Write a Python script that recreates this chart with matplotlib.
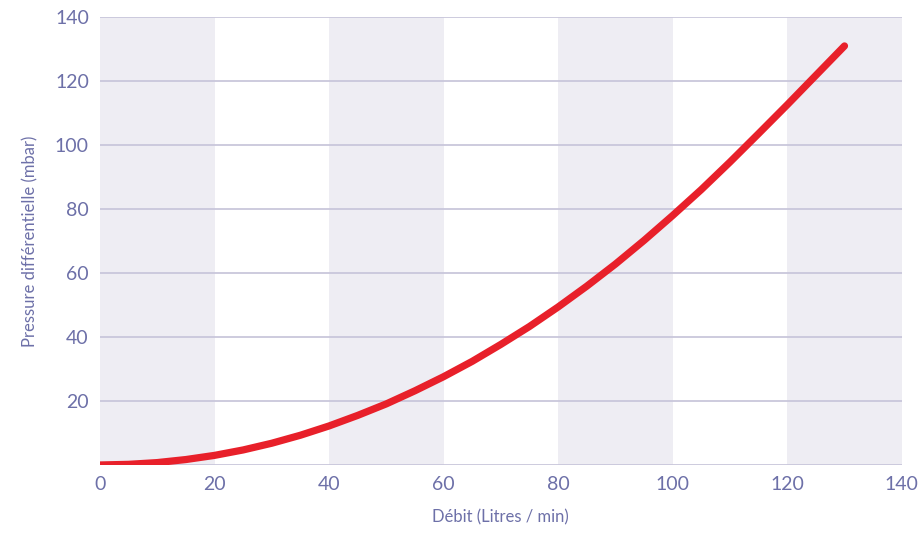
import matplotlib
matplotlib.use('Agg')
import matplotlib.pyplot as plt

# Data (every 5 L/min)
debit = [0, 5, 10, 15, 20, 25, 30, 35, 40, 45, 50, 55, 60, 65,
         70, 75, 80, 85, 90, 95, 100, 105, 110, 115, 120, 125, 130]
pression = [0, 0.2, 0.75, 1.7, 3.0, 4.7, 6.8, 9.3, 12.2, 15.5, 19.1, 23.2, 27.6, 32.4,
            37.7, 43.3, 49.4, 55.9, 62.8, 70.2, 78.0, 86.1, 94.7, 103.6, 112.6, 121.8, 131.0]
x_ticks = [0, 20, 40, 60, 80, 100, 120, 140]
y_ticks = [20, 40, 60, 80, 100, 120, 140]
bands = [(0, 20), (40, 60), (80, 100), (120, 140)]

label_color = '#6d70a8'
grid_color = '#c9c7db'
band_color = '#eeedf3'

plt.rcParams['font.family'] = ['Lato', 'DejaVu Sans']

fig = plt.figure(figsize=(9.23, 5.36), dpi=100)
ax = fig.add_axes([0.1083, 0.1325, 0.8687, 0.8355])

# alternating vertical bands and horizontal grid
for a, b in bands:
    ax.axvspan(a, b, color=band_color, lw=0, zorder=0)
for y in [0] + y_ticks:
    ax.axhline(y, color=grid_color, lw=1.3, zorder=1)

ax.plot(debit, pression, color='#e8202a', lw=5.2, solid_capstyle='round', zorder=3)

ax.set_xlim(0, 140)
ax.set_ylim(0, 140)
ax.set_xticks(x_ticks)
ax.set_yticks(y_ticks)
ax.tick_params(length=0, labelsize=14, colors=label_color, pad=8)
ax.tick_params(axis='x', pad=8)
for s in ax.spines.values():
    s.set_visible(False)

ax.set_xlabel('Débit (Litres / min)', fontsize=12, color=label_color, labelpad=12)
ax.set_ylabel('Pressure différentielle (mbar)', fontsize=12, color=label_color, labelpad=12)

fig.savefig('out.png', dpi=100)
